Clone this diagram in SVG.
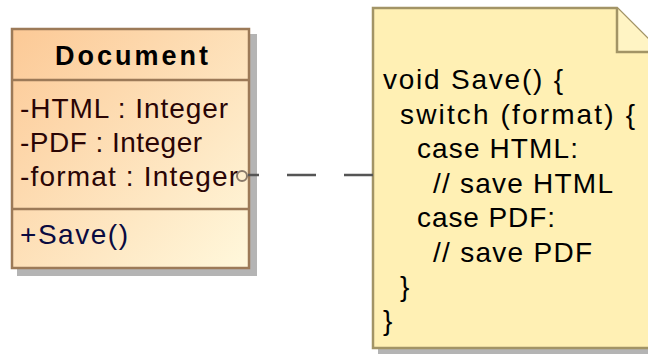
<svg xmlns="http://www.w3.org/2000/svg" width="648" height="354" viewBox="0 0 648 354">
<style>
.t{font-family:"Liberation Sans",Arial,sans-serif;font-size:28px}
.b{font-weight:bold;font-size:27px;fill:#000}
.attr{fill:#2a0505}
.op{fill:#0a0a40}
.note{fill:#000}
.shadow{fill:#b4b4b4}
.cls{stroke:#9c7a58;stroke-width:2.5}
.conn{stroke:#555;stroke-width:2.5;fill:none}
</style>
<defs>
<linearGradient id="g" x1="0" y1="0" x2="1" y2="1">
<stop offset="0" stop-color="#fcc996"/>
<stop offset="1" stop-color="#fff8dc"/>
</linearGradient>
</defs>
<g id="Document">
<rect class="shadow" x="17" y="34" width="240" height="242"/>
<rect x="12" y="29" width="237" height="239" fill="url(#g)" class="cls"/>
<line class="cls" x1="12" y1="80" x2="249" y2="80"/>
<line class="cls" x1="12" y1="209" x2="249" y2="209"/>
<text class="t b" x="55" y="65" textLength="153" lengthAdjust="spacing">Document</text>
<text class="t attr" x="20" y="118" textLength="208" lengthAdjust="spacing">-HTML : Integer</text>
<text class="t attr" x="20" y="152" textLength="182" lengthAdjust="spacing">-PDF : Integer</text>
<text class="t attr" x="20" y="186" textLength="218" lengthAdjust="spacing">-format : Integer</text>
<text class="t op" x="20" y="244" textLength="108" lengthAdjust="spacing">+Save()</text>
</g>
<g id="note">
<polygon class="shadow" points="378,13 622,13 666,57 666,354 378,354"/>
<polygon points="373,8 617,8 661,52 661,348 373,348" fill="#fff0b4" stroke="#a29466" stroke-width="2.5"/>
<polyline points="617,8 617,52 661,52" fill="#fff4c4" stroke="#a29466" stroke-width="2.5"/>
<text class="t note" x="383" y="89" textLength="180" lengthAdjust="spacing">void Save() {</text>
<text class="t note" x="400" y="124" textLength="235" lengthAdjust="spacing">switch (format) {</text>
<text class="t note" x="417" y="158" textLength="161" lengthAdjust="spacing">case HTML:</text>
<text class="t note" x="433" y="193" textLength="180" lengthAdjust="spacing">// save HTML</text>
<text class="t note" x="417" y="227" textLength="138" lengthAdjust="spacing">case PDF:</text>
<text class="t note" x="433" y="262" textLength="159" lengthAdjust="spacing">// save PDF</text>
<text class="t note" x="400" y="296">}</text>
<text class="t note" x="383" y="330">}</text>
</g>
<g id="connectors">
<line class="conn" x1="248" y1="175" x2="373" y2="175" stroke-dasharray="11,28,29,28,29"/>
<circle cx="242" cy="176" r="5" fill="none" stroke="#8a7a6a" stroke-width="2"/>
</g>
</svg>
